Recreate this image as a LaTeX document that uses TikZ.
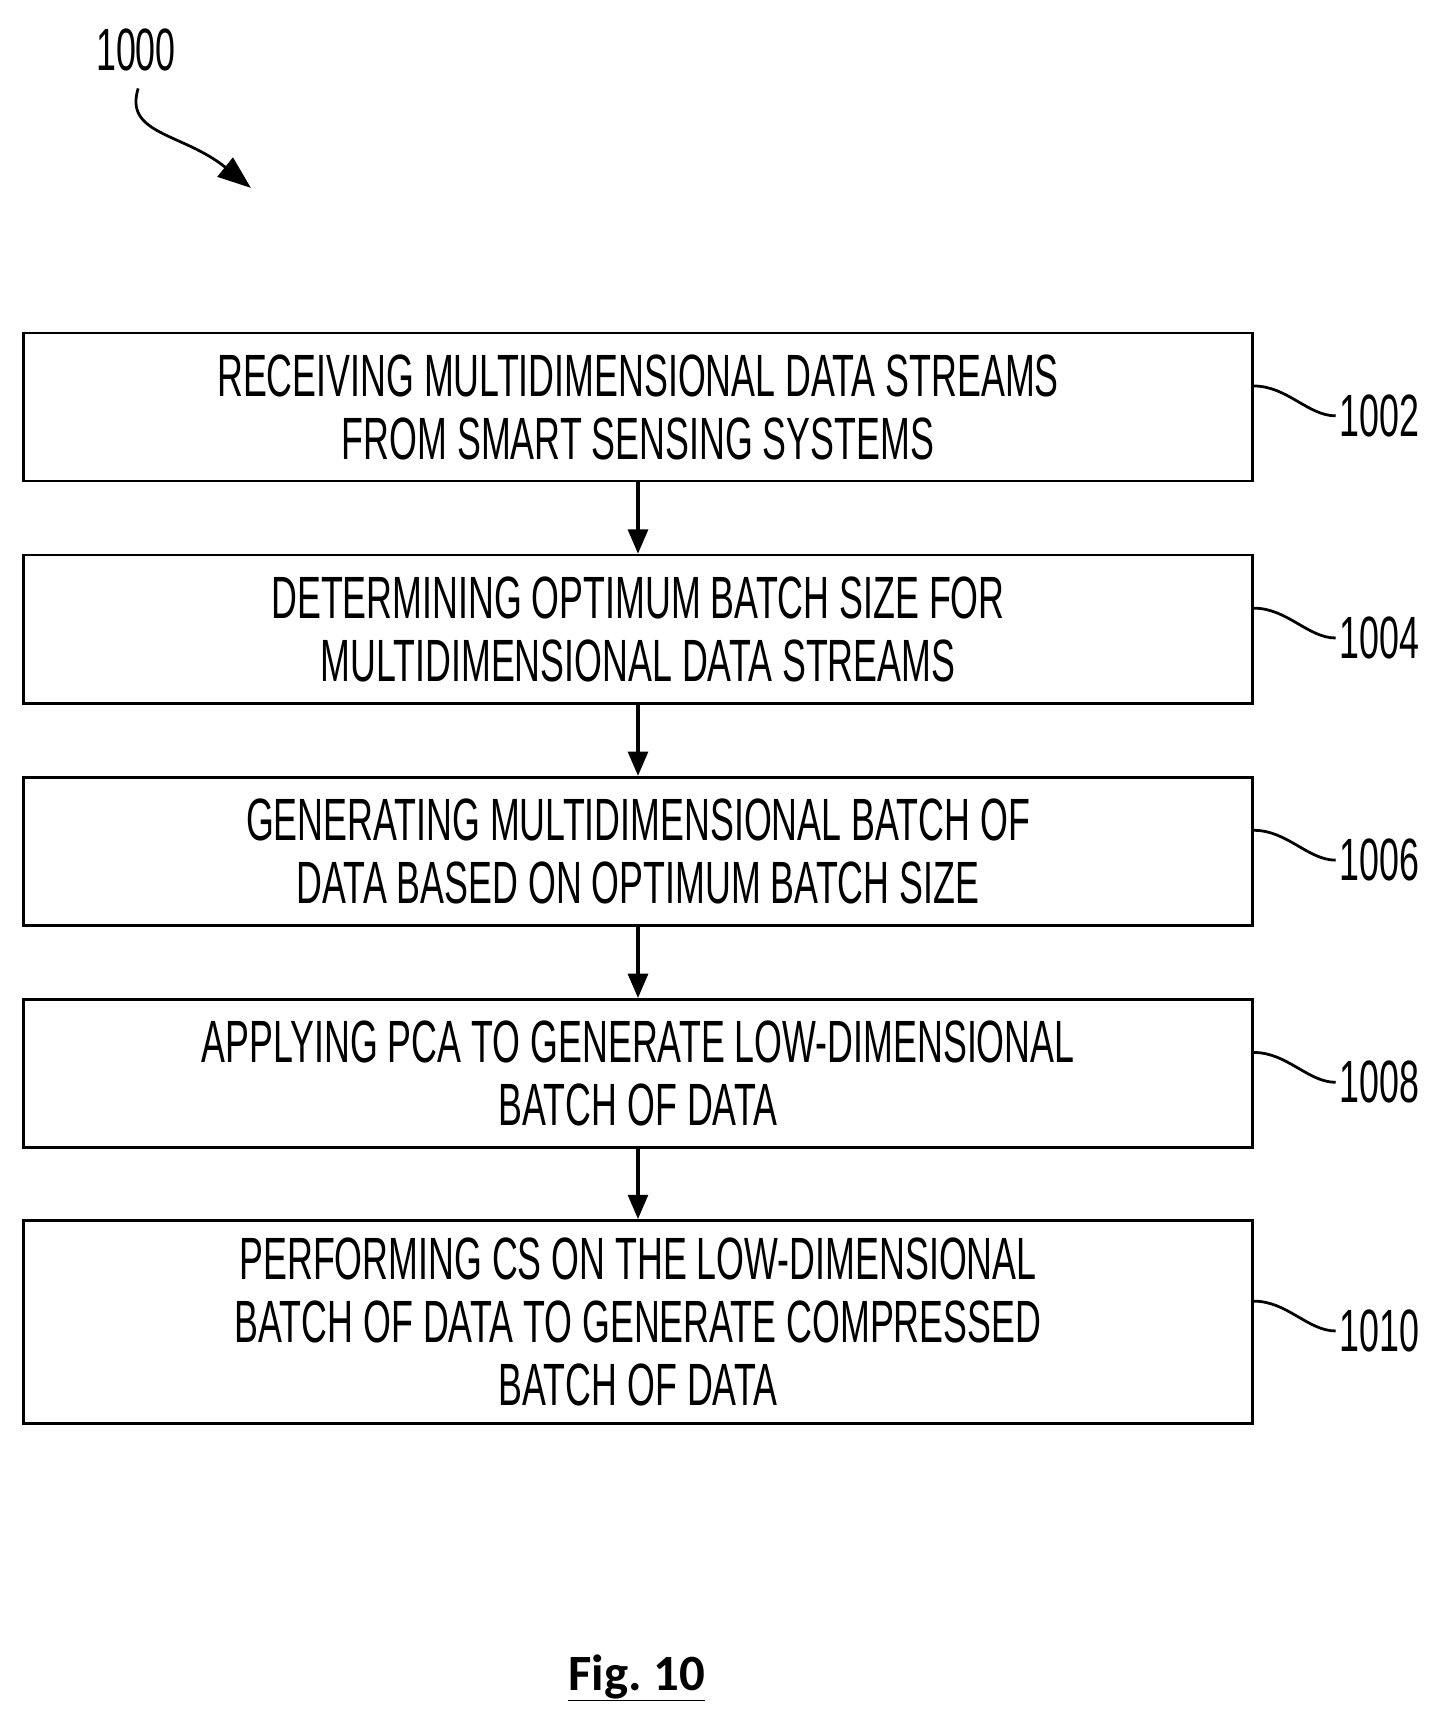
\documentclass[tikz,border=0pt]{standalone}
\usepackage{fontspec}
\setmainfont{Liberation Sans}[FakeStretch=0.6]
\newfontfamily\figfont{Carlito}
\usetikzlibrary{arrows.meta}
\begin{document}
\begin{tikzpicture}[x=1pt,y=-1pt,
  box/.style={draw,line width=2.5pt,minimum width=1112pt,anchor=north west,inner sep=0pt,align=center,font=\fontsize{54}{57}\selectfont},
  lbl/.style={font=\fontsize{54}{57}\selectfont,anchor=west},
  arr/.style={line width=3pt,-{Triangle[length=22pt,width=18pt]}},
  lead/.style={line width=2.5pt}]
\useasboundingbox (0,0) rectangle (1300,1568);
\node[box,minimum height=134pt] (b1) at (20,300) {RECEIVING MULTIDIMENSIONAL DATA STREAMS\\FROM SMART SENSING SYSTEMS};
\node[box,minimum height=134pt] (b2) at (20,501) {DETERMINING OPTIMUM BATCH SIZE FOR\\MULTIDIMENSIONAL DATA STREAMS};
\node[box,minimum height=134pt] (b3) at (20,702) {GENERATING MULTIDIMENSIONAL BATCH OF\\DATA BASED ON OPTIMUM BATCH SIZE};
\node[box,minimum height=134pt] (b4) at (20,903) {APPLYING PCA TO GENERATE LOW-DIMENSIONAL\\BATCH OF DATA};
\node[box,minimum height=184pt] (b5) at (20,1103) {PERFORMING CS ON THE LOW-DIMENSIONAL\\BATCH OF DATA TO GENERATE COMPRESSED\\BATCH OF DATA};
\foreach \a/\b in {b1/b2,b2/b3,b3/b4,b4/b5} \draw[arr] (\a.south) -- (\b.north);
\foreach \b/\n in {b1/1002,b2/1004,b3/1006,b4/1008,b5/1010}{
  \node[lbl] (l\n) at ([xshift=74pt,yshift=-8pt]\b.east) {\n};
  \draw[lead] ([yshift=19pt]\b.east) .. controls +(30,0) and +(-25,0) .. (l\n.west);
}
\node[font=\fontsize{54}{57}\selectfont] (t) at (123,45) {1000};
\coordinate (e) at (227,170);
\draw[line width=2.5pt,-{Triangle[length=30pt,width=22pt]}] (125,80) .. controls (112,122) and (165,120) .. (e);
\node[font=\figfont\bfseries\fontsize{46}{50}\selectfont] (f) at (576,1518) {\underline{Fig.~10}};
\end{tikzpicture}
\end{document}
